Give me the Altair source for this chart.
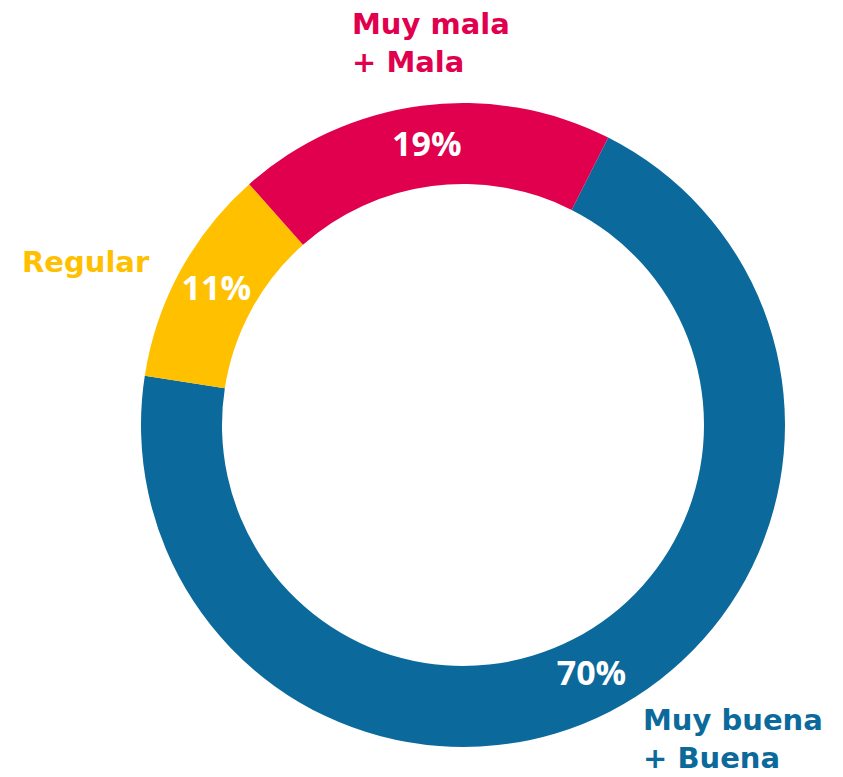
import math
import altair as alt
import pandas as pd

categories = ["Muy buena + Buena", "Regular", "Muy mala + Mala"]
values = [70, 11, 19]
pct_labels = ["70%", "11%", "19%"]
colors = ["#0B6A9B", "#FFC000", "#E0004D"]

df = pd.DataFrame({"cat": categories, "val": values, "pct": pct_labels, "order": [0, 1, 2]})

cx, cy = 455, 417
start = math.radians(26.8)

base = alt.Chart(df).encode(
    theta=alt.Theta("val:Q", stack=True,
                    scale=alt.Scale(range=[start, start + 2 * math.pi])),
    order=alt.Order("order:Q"),
    color=alt.Color("cat:N", scale=alt.Scale(domain=categories, range=colors), legend=None),
)

arc = base.mark_arc(outerRadius=322, innerRadius=241, stroke=None).encode(
    x=alt.value(cx), y=alt.value(cy)
)

pct = base.mark_text(radius=281, font="Open Sans", fontWeight="bold", fontSize=34,
                     align="center", baseline="middle").encode(
    x=alt.value(cx), y=alt.value(cy), text="pct:N",
    color=alt.value("white"),
)

label_font = dict(font="DejaVu Sans", fontWeight="bold", fontSize=29, align="left",
                  baseline="alphabetic", lineHeight=38)

lbl_red = alt.Chart(df).transform_filter(alt.datum.cat == categories[2]).mark_text(
    color=colors[2], **label_font).encode(
    x=alt.value(344), y=alt.value(26), text=alt.value(["Muy mala", "+ Mala"]))
lbl_yel = alt.Chart(df).transform_filter(alt.datum.cat == categories[1]).mark_text(
    color=colors[1], **label_font).encode(
    x=alt.value(14), y=alt.value(264), text=alt.value("Regular"))
lbl_blue = alt.Chart(df).transform_filter(alt.datum.cat == categories[0]).mark_text(
    color=colors[0], **label_font).encode(
    x=alt.value(635), y=alt.value(722), text=alt.value(["Muy buena", "+ Buena"]))

chart = alt.layer(arc, pct, lbl_red, lbl_yel, lbl_blue).properties(
    width=827, height=766, padding=0
).configure_view(stroke=None)

chart.save("out.html", embed_options={"renderer": "svg", "actions": False})
